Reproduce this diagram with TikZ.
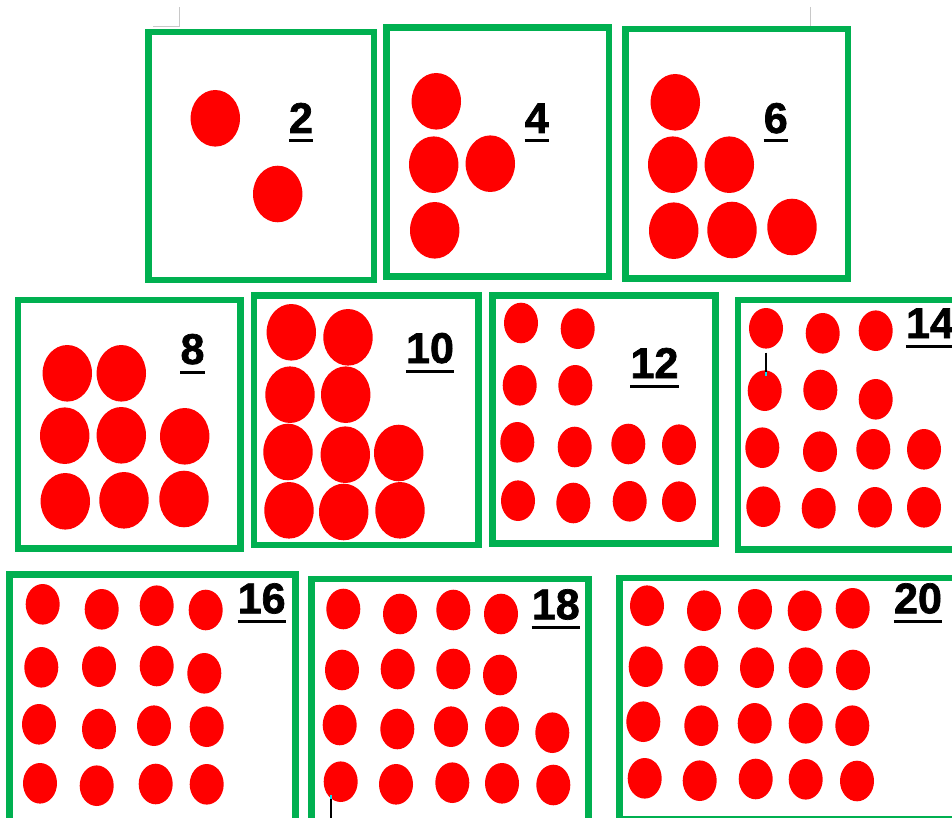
\documentclass[tikz,border=0pt]{standalone}
\usepackage{fontspec}
\setmainfont{Liberation Sans}
\newfontfamily\digitfont[FakeBold=1.6]{Liberation Sans Bold}
\definecolor{boxgreen}{HTML}{00B050}
\definecolor{dotred}{HTML}{FF0000}
\definecolor{markgray}{HTML}{C8C8C8}
\definecolor{cursorcyan}{HTML}{00E0F0}
\tikzset{
  card/.style={draw=boxgreen, line width=6.5pt},
  bigdot/.style={fill=dotred},
  numlabel/.style={inner sep=0pt, anchor=base, font=\digitfont\fontsize{43}{43}\selectfont},
  uline/.style={line width=3pt, black},
  pagemark/.style={draw=markgray, line width=0.8pt},
  cursorline/.style={draw=black, line width=2pt},
}
\newcommand{\numtag}[4]{%
  \node[numlabel] (#1) at (#2,#3) {#4};
  \draw[uline] ([yshift=-8pt]#1.base west) -- ([yshift=-8pt]#1.base east);
}
\newcommand{\bigdots}[1]{%
  \foreach \px/\py in {#1} {\fill[bigdot] (\px,\py) ellipse [x radius=24.7pt, y radius=28.3pt];}
}
\newcommand{\smalldots}[1]{%
  \foreach \px/\py in {#1} {\fill[bigdot] (\px,\py) ellipse [x radius=17pt, y radius=20.3pt];}
}
\begin{document}
\begin{tikzpicture}[x=1pt,y=-1pt]
\useasboundingbox (0,0) rectangle (952,818);
\clip (0,0) rectangle (952,818);
\fill[white] (0,0) rectangle (952,818);

% page margin marks
\draw[pagemark] (153,26) -- (179,26) -- (179,7);
\draw[pagemark] (810,7) -- (810,26);

% ---------- row 1 ----------
\draw[card] (148.7,32) rectangle (374,280);
\bigdots{215.3/118.3, 277.7/194}
\numtag{n2}{301}{133}{2}

\draw[card] (386.3,27.7) rectangle (609,276.3);
\bigdots{436.3/101.3, 433.7/164.7, 490.3/163.7, 434.7/230.3}
\numtag{n4}{536.7}{133}{4}

\draw[card] (625.5,29) rectangle (848,278.3);
\bigdots{675.3/102.3, 672.7/164.7, 729.3/164.7, 673.7/230.7, 732/230, 792/227}
\numtag{n6}{775.8}{133}{6}

% ---------- row 2 ----------
\draw[card] (18,300) rectangle (240.7,548.3);
\bigdots{67.3/373.3, 121.3/373.3, 64.7/435.7, 121.3/435.3, 184.7/436.3, 65.3/501.3, 124/500.3, 184/499}
\numtag{n8}{192.5}{364}{8}

\draw[card] (254,295.7) rectangle (478.7,545);
\bigdots{291.3/332.3, 348/337.3, 290/394.7, 345.7/394.7, 288/452, 345.3/454.7, 398.7/453, 289/510.3, 343.7/512, 400/510.3}
\numtag{n10}{430}{363}{10}

\draw[card] (492.3,295.5) rectangle (715.7,543.5);
\smalldots{521/323, 577.7/328.7, 519.7/385.3, 575.3/385.3, 517.3/442.3, 574.7/447, 628.3/444, 679/444.7, 518/500.7, 573.3/503, 629.7/501.3, 679/501.7}
\numtag{n12}{654.5}{378}{12}

\draw[card] (738,300) rectangle (975,549.5);
\smalldots{766/328.3, 822.7/333.3, 875.7/330.7, 764.7/390.7, 820.3/390, 875.7/399.3, 762.3/447.7, 820/451.7, 873.3/449.3, 924/449.3, 763.3/506.7, 818.7/508.3, 875/507.3, 924/507.3}
\numtag{n14}{930}{338}{14}
\draw[cursorline] (766,352.7) -- (766,372);
\draw[draw=cursorcyan, line width=2pt] (766,372) -- (766,376);

% ---------- row 3 ----------
\draw[card] (9.3,574.5) rectangle (295.7,840);
\smalldots{42.7/604.3, 101.7/609.3, 156.7/605.7, 205.7/610, 41.3/667.3, 99/666.7, 156.7/666, 204.3/673.3, 39/724.3, 99/729, 154/725.7, 206.7/726.7, 40/783.3, 96.7/785.7, 155.7/784, 206.7/784.3}
\numtag{n16}{261.7}{613.3}{16}

\draw[card] (311.7,579) rectangle (588.3,840);
\smalldots{343.3/609, 400/614, 453.3/610, 501/614, 342/670, 397.7/669, 453.3/669, 500/675, 339.7/725, 397.3/729, 451/726.7, 502/726.7, 552.3/732.7, 340.7/781.7, 396/784.3, 452.3/782.7, 502/783.3, 553.3/785}
\numtag{n18}{555.8}{619.3}{18}
\draw[draw=cursorcyan, line width=2pt] (331,795) -- (331,798.5);
\draw[cursorline] (331,798.5) -- (331,818);

\draw[card] (619.7,577.8) rectangle (975,819);
\smalldots{647/605.7, 704/610.7, 755/609.3, 804.7/610.7, 852.7/608.3, 645.7/666.7, 701.3/666, 757/667.7, 805.7/667.7, 853/670, 643.3/721.7, 701.3/725.7, 754.7/723.3, 805.7/723.3, 852.3/725.7, 644.7/778.3, 699.7/780.7, 755.7/779, 805.7/779.3, 857/781}
\numtag{n20}{918}{613.3}{20}
\end{tikzpicture}
\end{document}
